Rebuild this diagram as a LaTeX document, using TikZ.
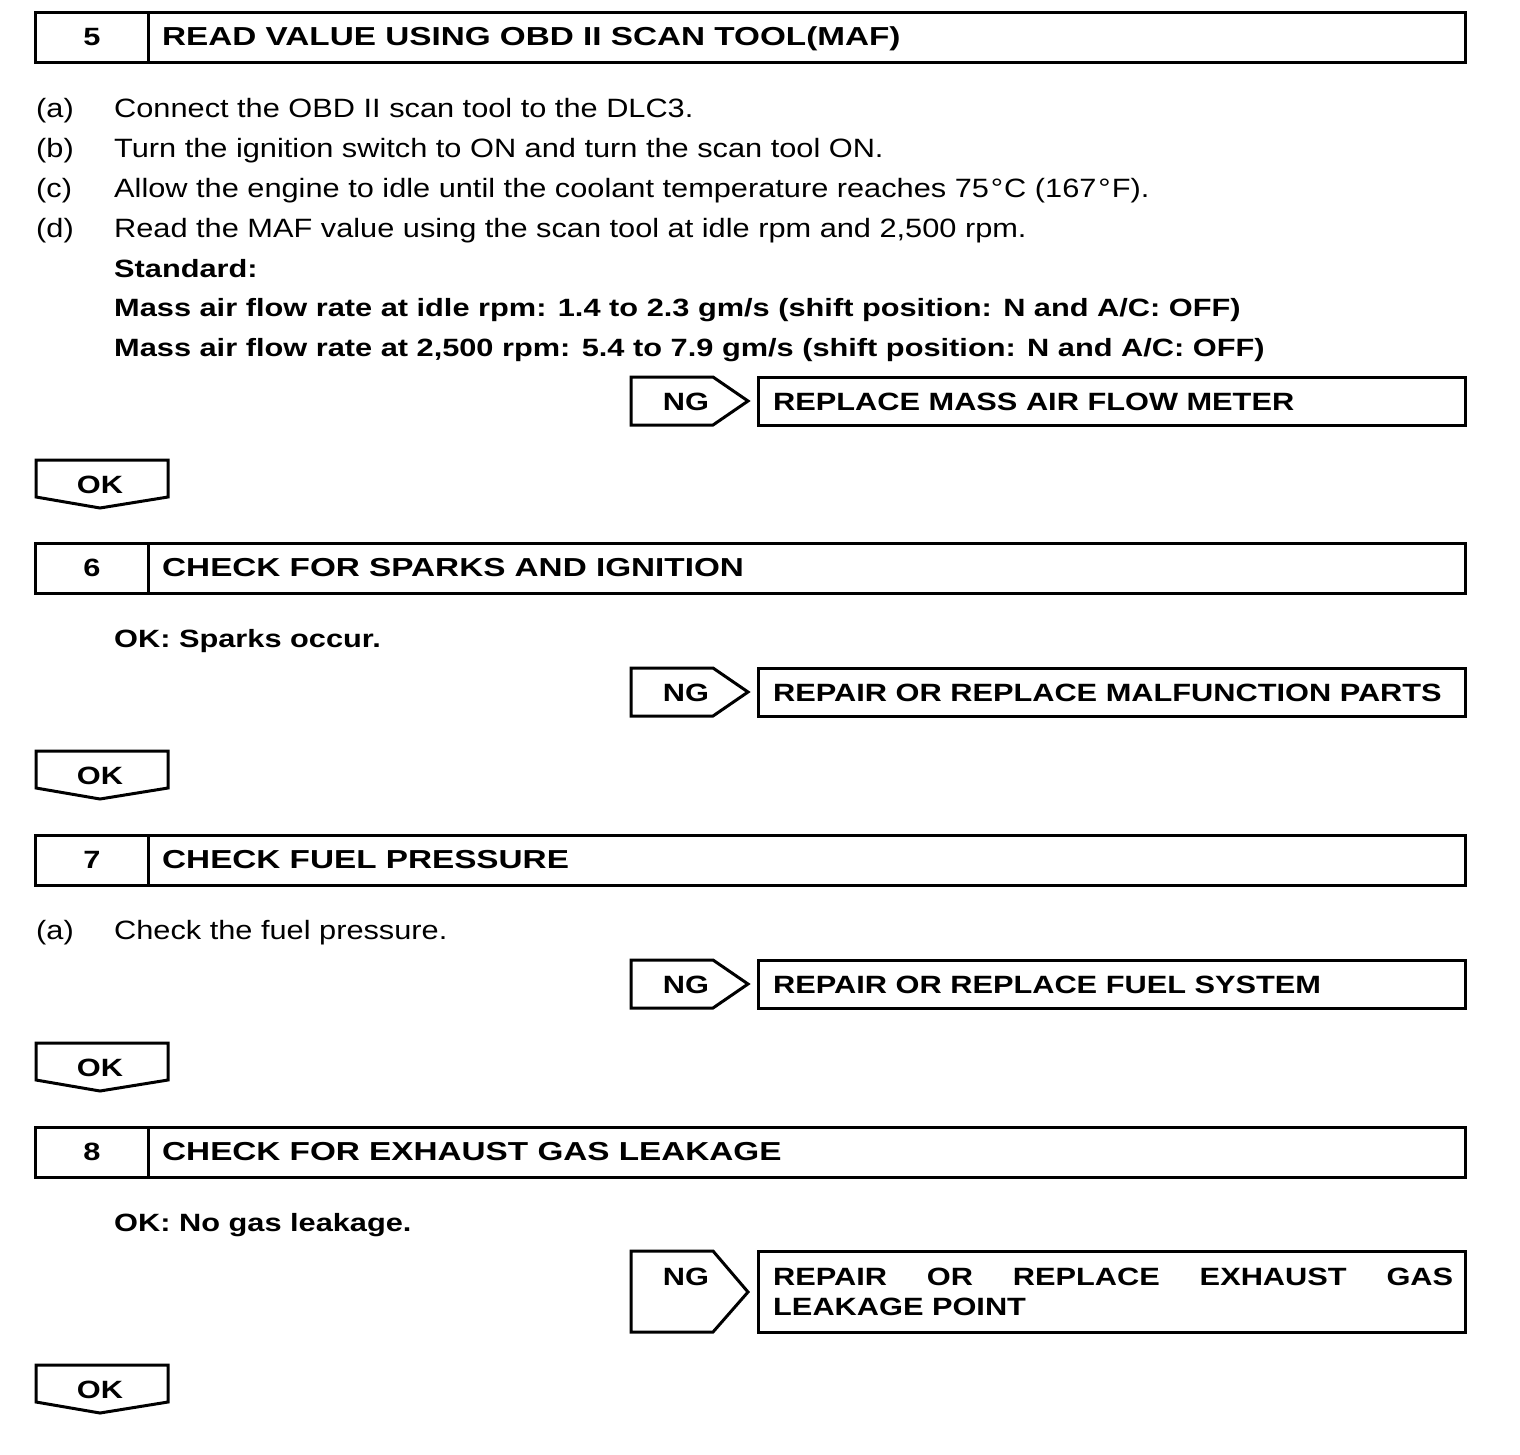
\documentclass[tikz,border=0pt]{standalone}
\usepackage{fontspec}
\setmainfont{Liberation Sans}
\newfontfamily\widereg[FakeStretch=1.16]{Liberation Sans}
\newfontfamily\widebold[FakeStretch=1.23]{Liberation Sans}
\newfontfamily\widehead[FakeStretch=1.28]{Liberation Sans}
\begin{document}
\begin{tikzpicture}[x=1pt,y=-1pt,
  frame/.style={line width=3pt,line join=miter},
  txt/.style={anchor=base west,inner sep=0pt,font=\widereg\fontsize{26.5}{30}\selectfont},
  btxt/.style={anchor=base west,inner sep=0pt,font=\widebold\bfseries\fontsize{25}{30}\selectfont},
  htxt/.style={anchor=base west,inner sep=0pt,font=\widehead\bfseries\fontsize{26}{30}\selectfont},
  ctxt/.style={anchor=base,inner sep=0pt,font=\widebold\bfseries\fontsize{25}{30}\selectfont}]
\useasboundingbox[fill=white] (0,0) rectangle (1520,1454);
% Header boxes
\foreach \t/\n/\s in {12/5/{READ VALUE USING OBD II SCAN TOOL(MAF)},543/6/{CHECK FOR SPARKS AND IGNITION},835/7/{CHECK FUEL PRESSURE},1127/8/{CHECK FOR EXHAUST GAS LEAKAGE}}{
  \draw[frame] (35,\t) rectangle (1465,\t+50);
  \draw[frame] (148,\t) -- (148,\t+50);
  \node[ctxt] (num\n) at (92,\t+33) {\n};
  \node[htxt] (head\n) at (162,\t+33) {\s};
}
% Step 5 text
\node[txt] (la) at (36,117) {(a)};
\node[txt] (ta) at (114,117) {Connect the OBD II scan tool to the DLC3.};
\node[txt] (lb) at (36,157) {(b)};
\node[txt] (tb) at (114,157) {Turn the ignition switch to ON and turn the scan tool ON.};
\node[txt] (lc) at (36,197) {(c)};
\node[txt] (tc) at (114,197) {Allow the engine to idle until the coolant temperature reaches 75\kern2pt°\kern1pt C (167\kern2pt°\kern1pt F).};
\node[txt] (ld) at (36,237) {(d)};
\node[txt] (td) at (114,237) {Read the MAF value using the scan tool at idle rpm and 2,500 rpm.};
\node[btxt] (std) at (114,277) {Standard:};
\node[btxt] (m1) at (114,316) {Mass air flow rate at idle rpm: 1.4 to 2.3 gm/s (shift position: N and A/C: OFF)};
\node[btxt] (m2) at (114,356) {Mass air flow rate at 2,500 rpm: 5.4 to 7.9 gm/s (shift position: N and A/C: OFF)};
% Step 6/7/8 text
\node[btxt] (ok6) at (114,647) {OK: Sparks occur.};
\node[txt] (l7a) at (36,939) {(a)};
\node[txt] (t7a) at (114,939) {Check the fuel pressure.};
\node[btxt] (ok8) at (114,1231) {OK: No gas leakage.};
% NG boxes (single line)
\foreach \t/\k/\s in {377/1/{REPLACE MASS AIR FLOW METER},668/2/{REPAIR OR REPLACE MALFUNCTION PARTS},960/3/{REPAIR OR REPLACE FUEL SYSTEM}}{
  \draw[frame] (631,\t) -- (713,\t) -- (748,\t+24) -- (713,\t+48) -- (631,\t+48) -- cycle;
  \draw[frame] (758,\t) rectangle (1465,\t+48);
  \node[ctxt] (ng\k) at (686,\t+33) {NG};
  \node[btxt] (res\k) at (773,\t+33) {\s};
}
% NG box 4 (tall)
\draw[frame] (631,1251) -- (713,1251) -- (748,1292) -- (713,1332) -- (631,1332) -- cycle;
\draw[frame] (758,1251) rectangle (1465,1332);
\node[ctxt] (ng4) at (686,1285) {NG};
\node[btxt] (res4a) at (773,1285) {\makebox[680pt][s]{REPAIR\hfill OR\hfill REPLACE\hfill EXHAUST\hfill GAS}};
\node[btxt] (res4b) at (773,1315) {LEAKAGE POINT};
% OK boxes
\foreach \t/\k in {460/1,751/2,1043/3,1365/4}{
  \draw[frame] (36,\t) -- (168,\t) -- (168,\t+37) -- (100,\t+48) -- (36,\t+37) -- cycle;
  \node[ctxt] (ok\k) at (100,\t+33) {OK};
}
\end{tikzpicture}
\end{document}
